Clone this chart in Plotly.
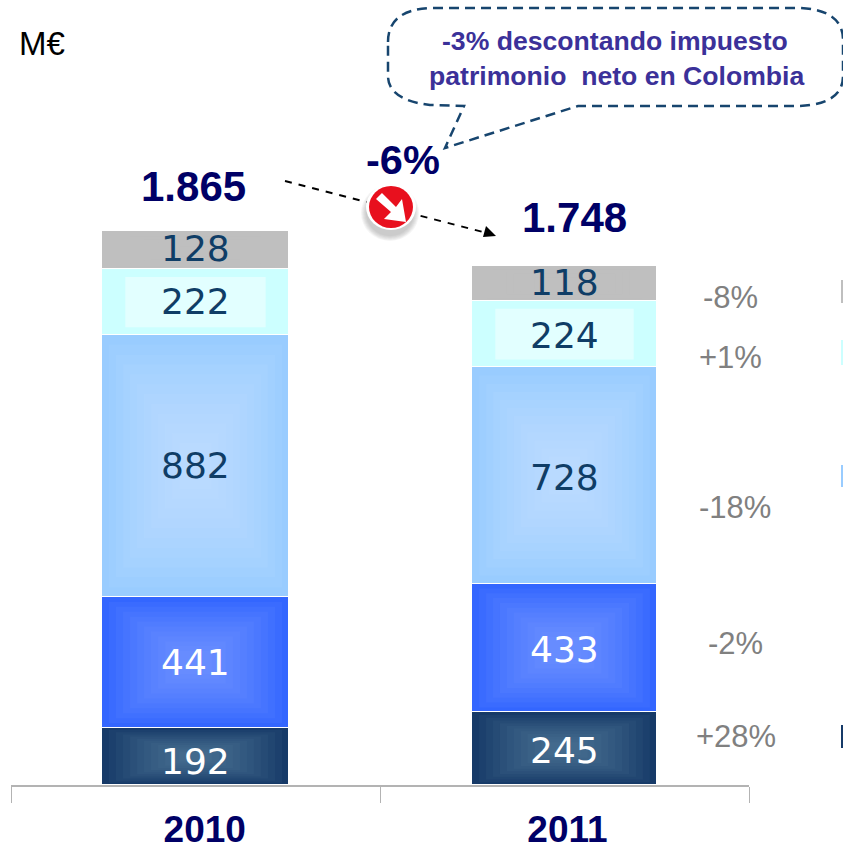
import plotly.graph_objects as go

W, H = 843, 846
L, R, T, B = 11, 749, 0, 785

years = ["2010", "2011"]
s_navy = [192, 245]
s_blue = [441, 433]
s_light = [882, 728]
s_cyan = [222, 224]
s_grey = [128, 118]
totals = ["1.865", "1.748"]
changes = ["+28%", "-2%", "-18%", "+1%", "-8%"]

series = [s_navy, s_blue, s_light, s_cyan, s_grey]
edge = ["#163A68", "#3366FF", "#99CCFF", "#CCFFFF", "#BFBFBF"]
glow = ["rgba(110,150,170,0.075)", "rgba(150,175,255,0.075)", "rgba(205,230,255,0.085)",
        "#E2FFFF", "rgba(205,205,205,0.05)"]
txtc = ["#FFFFFF", "#FFFFFF", "#0F3D66", "#0F3D66", "#0F3D66"]
label_shift = [[-5, 0, 1, 1, 2], [-2, -2, -2, -1, 1]]

PXY = 0.297
BW = [0.507, 0.5]


def px(x):
    return (x - L) / (R - L)


def py(y):
    return (B - y) / (B - T)


def rect_p(x0, y0, x1, y1, color, **kw):
    return dict(type="rect", xref="paper", yref="paper", x0=px(x0), x1=px(x1), y0=py(y0), y1=py(y1),
                fillcolor=color, line=dict(width=0), **kw)


def path_p(pts, close=True):
    s = "M " + " L ".join(f"{px(a):.5f},{py(b):.5f}" for a, b in pts)
    return s + (" Z" if close else "")


def txt(x, y, s, size, color, bold=False, family="Liberation Sans"):
    return dict(xref="paper", yref="paper", x=px(x), y=py(y), text=f"<b>{s}</b>" if bold else s,
                showarrow=False, xanchor="center", yanchor="middle",
                font=dict(size=size, color=color, family=family))


fig = go.Figure()
for vals, c in zip(series, edge):
    fig.add_trace(go.Bar(x=[0, 1], y=vals, width=BW, marker=dict(color=c, line=dict(color="#FFFFFF", width=1)),
                         hoverinfo="skip", showlegend=False))

shapes, annos = [], []
for i in range(2):
    base = 0
    hw = BW[i] / 2
    for k, vals in enumerate(series):
        v = vals[i]
        if k == 3:
            shapes.append(dict(type="rect", xref="x", yref="y", x0=i - hw * 0.75, x1=i + hw * 0.75,
                               y0=base + v * 0.12, y1=base + v * 0.88, fillcolor=glow[k], line=dict(width=0)))
        else:
            n = 12
            for st in range(1, n):
                f = st / n
                shapes.append(dict(type="rect", xref="x", yref="y", x0=i - hw * (1 - f * 0.9),
                                   x1=i + hw * (1 - f * 0.9), y0=base + v / 2 * f * 0.9,
                                   y1=base + v - v / 2 * f * 0.9, fillcolor=glow[k], line=dict(width=0)))
        annos.append(dict(xref="x", yref="y", x=i, y=base + v / 2, text=str(v), showarrow=False,
                          yshift=label_shift[i][k],
                          font=dict(size=36, color=txtc[k], family="DejaVu Sans")))
        base += v

# change labels
for s, y in zip(changes, [736, 643, 507, 357, 297]):
    annos.append(txt(736 if s == "+28%" else 735 if s == "-2%" else 735 if s == "-18%" else 730, y, s, 31, "#808080"))

annos += [
    txt(42, 44, "M€", 33, "#000000"),
    txt(193, 187, totals[0], 42, "#000066", True),
    txt(574, 217, totals[1], 42, "#000066", True),
    txt(403, 160, "-6%", 41.5, "#000066", True),
    txt(615, 41, "-3% descontando impuesto", 26.6, "#3B3199", True),
    txt(616, 76, "patrimonio  neto en Colombia", 26.6, "#3B3199", True),
]

# clipped legend keys on the right edge
for y0, y1, c in [(280, 303, "#BFBFBF"), (340, 365, "#CCFFFF"), (465, 487, "#99CCFF"), (725, 748, "#163A68")]:
    shapes.append(rect_p(841, y0, 843, y1, c))

# dashed trend arrow
shapes.append(dict(type="path", xref="paper", yref="paper", path=path_p([(285, 181), (487, 233)], False),
                   line=dict(color="#000000", width=2, dash="7px,7px")))
shapes.append(dict(type="path", xref="paper", yref="paper", path=path_p([(496, 236), (483, 237), (486, 226)]),
                   fillcolor="#000000", line=dict(width=0)))


def ell(cx, cy, rx, ry, color, line=None):
    return dict(type="circle", xref="paper", yref="paper", x0=px(cx - rx), x1=px(cx + rx), y0=py(cy - ry),
                y1=py(cy + ry), fillcolor=color, line=line or dict(width=0))


# red icon
for g in range(6):
    shapes.append(ell(390, 213, 29 - g, 28 - g, "rgba(120,120,120,0.07)"))
shapes.append(ell(391, 207, 25, 23, "#FFFFFF"))
shapes.append(ell(391, 207, 22, 21, "#E8101E"))
shapes.append(dict(type="path", xref="paper", yref="paper", fillcolor="#FFFFFF", line=dict(width=0),
                   path=path_p([(376, 199), (382, 193), (396, 207), (402, 199), (406, 222), (384, 219), (391, 212)])))

# callout
cal = (
    f"M {px(388)},{py(42)} Q {px(388)},{py(10)} {px(430)},{py(8)} L {px(800)},{py(8)} "
    f"Q {px(843)},{py(10)} {px(843)},{py(40)} L {px(843)},{py(76)} Q {px(843)},{py(104)} {px(800)},{py(106)} "
    f"L {px(578)},{py(106)} L {px(445)},{py(148)} L {px(464)},{py(106)} L {px(430)},{py(105)} "
    f"Q {px(388)},{py(100)} {px(388)},{py(76)} Z"
)
shapes.append(dict(type="path", xref="paper", yref="paper", path=cal,
                   line=dict(color="#17456E", width=2.5, dash="10px,6px")))

fig.update_layout(
    barmode="stack", width=W, height=H, autosize=False,
    margin=dict(l=L, r=W - R, t=T, b=H - B, autoexpand=False),
    paper_bgcolor="#FFFFFF", plot_bgcolor="#FFFFFF", shapes=shapes, annotations=annos, bargap=0,
    xaxis=dict(range=[-0.5, 1.5], showgrid=False, zeroline=False, showline=True, linecolor="#B3B3B3", linewidth=2,
               tickmode="array", tickvals=[0.025, 1.008], ticktext=years, ticks="", ticklabelstandoff=11,
               tickfont=dict(size=37, color="#000066", family="Liberation Sans", weight="bold"),
               minor=dict(tickmode="array", tickvals=[-0.5, 0.5, 1.5], ticks="outside", ticklen=16, tickwidth=1,
                          tickcolor="#B3B3B3", showgrid=False)),
    yaxis=dict(range=[0, (B - T) / PXY], visible=False),
)
fig.write_html("out.html", config=dict(displayModeBar=False),
               post_script="document.body.style.margin='0';document.body.style.overflow='hidden';")
